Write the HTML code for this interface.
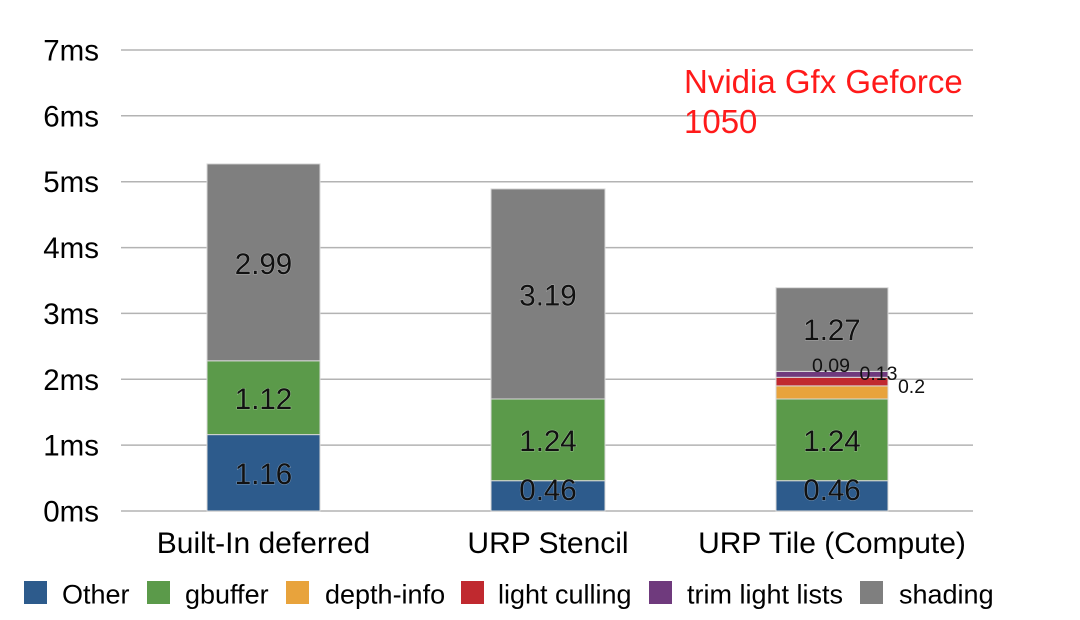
<!DOCTYPE html>
<html><head><meta charset="utf-8"><style>
html,body{margin:0;padding:0;background:#fff;}
svg{display:block;}
text{font-family:"Liberation Sans",Arial,sans-serif;}
</style></head><body>
<svg width="1080" height="620" viewBox="0 0 1080 620" xmlns="http://www.w3.org/2000/svg">
<rect width="1080" height="620" fill="#fff"/>
<!-- gridlines -->
<g stroke="#b3b3b3" stroke-width="1.5">
<line x1="121" y1="511" x2="973" y2="511"/>
<line x1="121" y1="445.1" x2="973" y2="445.1"/>
<line x1="121" y1="379.3" x2="973" y2="379.3"/>
<line x1="121" y1="313.4" x2="973" y2="313.4"/>
<line x1="121" y1="247.6" x2="973" y2="247.6"/>
<line x1="121" y1="181.7" x2="973" y2="181.7"/>
<line x1="121" y1="115.8" x2="973" y2="115.8"/>
<line x1="121" y1="50" x2="973" y2="50"/>
</g>
<!-- y labels -->
<g font-size="29.5" fill="#000" text-anchor="end">
<text x="99" y="521.5">0ms</text>
<text x="99" y="455.6">1ms</text>
<text x="99" y="389.8">2ms</text>
<text x="99" y="323.9">3ms</text>
<text x="99" y="258.1">4ms</text>
<text x="99" y="192.2">5ms</text>
<text x="99" y="126.3">6ms</text>
<text x="99" y="60.5">7ms</text>
</g>
<!-- bars -->
<g stroke="#d9d9d9" stroke-width="1">
<rect x="207" y="434.6" width="113" height="76.4" fill="#2d5b8c"/>
<rect x="207" y="360.8" width="113" height="73.8" fill="#5b9a4a"/>
<rect x="207" y="163.9" width="113" height="196.9" fill="#7f7f7f"/>

<rect x="491" y="480.7" width="114" height="30.3" fill="#2d5b8c"/>
<rect x="491" y="399" width="114" height="81.7" fill="#5b9a4a"/>
<rect x="491" y="188.9" width="114" height="210.1" fill="#7f7f7f"/>

<rect x="776" y="480.7" width="112" height="30.3" fill="#2d5b8c"/>
<rect x="776" y="399" width="112" height="81.7" fill="#5b9a4a"/>
<rect x="776" y="385.9" width="112" height="13.1" fill="#e8a33c"/>
<rect x="776" y="377.3" width="112" height="8.6" fill="#c0292f"/>
<rect x="776" y="371.4" width="112" height="5.9" fill="#6f3a7d"/>
<rect x="776" y="287.7" width="112" height="83.7" fill="#7f7f7f"/>
</g>
<!-- value labels -->
<g font-size="29.5" fill="#111" text-anchor="middle" stroke="rgba(255,255,255,0.35)" stroke-width="1" paint-order="stroke">
<text x="263.5" y="484">1.16</text>
<text x="263.5" y="409">1.12</text>
<text x="263.5" y="274">2.99</text>
<text x="548" y="500">0.46</text>
<text x="548" y="451">1.24</text>
<text x="548" y="305.5">3.19</text>
<text x="832" y="500">0.46</text>
<text x="832" y="451">1.24</text>
<text x="832" y="340">1.27</text>
</g>
<g font-size="19.5" fill="#111" text-anchor="middle">
<text x="831" y="372">0.09</text>
<text x="878.5" y="380">0.13</text>
<text x="911.5" y="393">0.2</text>
</g>
<!-- x labels -->
<g font-size="30" fill="#000" text-anchor="middle">
<text x="263.5" y="553">Built-In deferred</text>
<text x="548" y="553">URP Stencil</text>
<text x="832" y="553">URP Tile (Compute)</text>
</g>
<!-- title -->
<g font-size="33" fill="#ff1a1a">
<text x="684" y="93">Nvidia Gfx Geforce</text>
<text x="684" y="133">1050</text>
</g>
<!-- legend -->
<g>
<rect x="24" y="581" width="23" height="23" fill="#2d5b8c"/>
<rect x="147" y="581" width="23" height="23" fill="#5b9a4a"/>
<rect x="286" y="581" width="23" height="23" fill="#e8a33c"/>
<rect x="461" y="581" width="23" height="23" fill="#c0292f"/>
<rect x="649" y="581" width="23" height="23" fill="#6f3a7d"/>
<rect x="860" y="581" width="23" height="23" fill="#7f7f7f"/>
</g>
<g font-size="27" fill="#000">
<text x="62" y="603.5">Other</text>
<text x="185" y="603.5">gbuffer</text>
<text x="325" y="603.5">depth-info</text>
<text x="498" y="603.5">light culling</text>
<text x="687" y="603.5">trim light lists</text>
<text x="899" y="603.5">shading</text>
</g>
</svg>
</body></html>
